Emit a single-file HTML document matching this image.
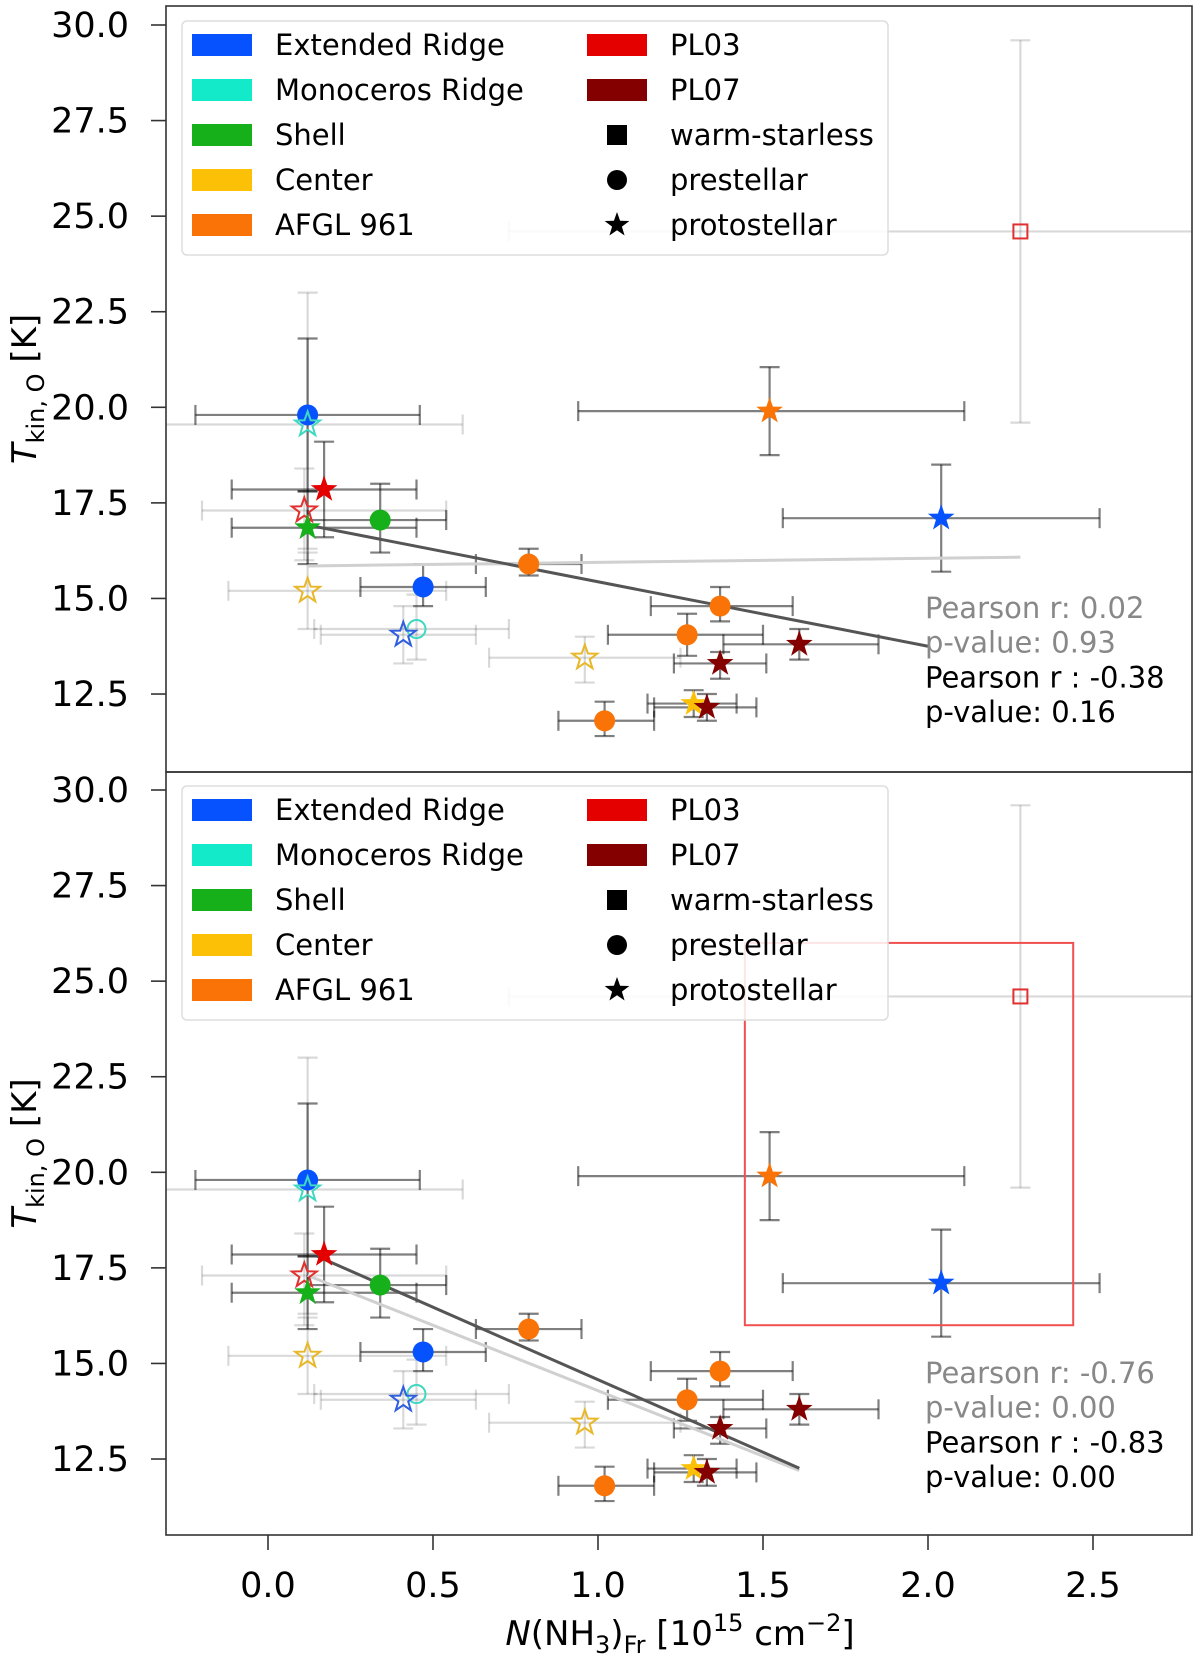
<!DOCTYPE html>
<html><head><meta charset="utf-8"><style>
html,body{margin:0;padding:0;background:#fff;}
svg{display:block;font-family:"DejaVu Sans","Liberation Sans",sans-serif;}
</style></head><body>
<svg id="chart" width="1200" height="1657" viewBox="0 0 1200 1657" xmlns="http://www.w3.org/2000/svg"></svg>
<script>
// ---- data ----
const ptX   = [0.12,0.12,0.17,0.11,0.34,0.12,0.12,0.47,0.45,0.41,0.79,0.96,1.02,1.27,1.37,1.29,1.33,1.37,1.61,1.52,2.04,2.28];
const ptY   = [19.8,19.55,17.85,17.3,17.05,16.85,15.2,15.3,14.2,14.05,15.9,13.45,11.8,14.05,14.8,12.25,12.15,13.3,13.8,19.9,17.1,24.6];
const ptXlo = [-0.22,-0.32,-0.11,-0.2,0.12,-0.11,-0.12,0.28,0.14,0.16,0.63,0.67,0.88,1.03,1.16,1.15,1.17,1.23,1.38,0.94,1.56,0.73];
const ptXhi = [0.46,0.59,0.45,0.54,0.54,0.45,0.54,0.66,0.73,0.63,0.95,1.25,1.17,1.5,1.59,1.42,1.48,1.51,1.85,2.11,2.52,3.2];
const ptYlo = [17.8,16.3,16.6,16.0,16.2,15.9,14.2,14.8,13.4,13.3,15.6,12.8,11.4,13.5,14.4,11.9,11.8,12.9,13.4,18.75,15.7,19.6];
const ptYhi = [21.8,23.0,19.1,18.4,18.0,17.8,16.2,15.9,15.1,14.8,16.3,14.0,12.3,14.6,15.3,12.6,12.5,13.6,14.2,21.05,18.5,29.6];
const ptGroup = ["ext","mon","pl03","pl03","shell","shell","center","ext","mon","ext","afgl","center","afgl","afgl","afgl","center","pl07","pl07","pl07","afgl","ext","pl03"];
const ptMarker = ["o","*","*","*","o","*","*","o","o","*","o","*","o","o","o","*","*","*","*","*","*","s"];
const ptFilled = [1,0,1,0,1,1,0,1,0,0,1,0,1,1,1,1,1,1,1,1,1,0];
const fitTop = {dark:[[0.12,16.92],[2.0,13.75]], light:[[0.12,15.85],[2.28,16.08]]};
const fitBot = {dark:[[0.15,17.8],[1.61,12.26]], light:[[0.12,17.3],[1.61,12.2]]};
const statsTop = ["Pearson r: 0.02","p-value: 0.93","Pearson r : -0.38","p-value: 0.16"];
const statsBot = ["Pearson r: -0.76","p-value: 0.00","Pearson r : -0.83","p-value: 0.00"];
const yTicks = [12.5,15.0,17.5,20.0,22.5,25.0,27.5,30.0];
const xTicks = [0.0,0.5,1.0,1.5,2.0,2.5];
const legendRegions = ["Extended Ridge","Monoceros Ridge","Shell","Center","AFGL 961"];
const legendRegionKeys = ["ext","mon","shell","center","afgl"];
const legendCol2 = ["PL03","PL07","warm-starless","prestellar","protostellar"];
const colors = {ext:"#0652ff",mon:"#13eac9",shell:"#15b01a",center:"#fcc006",afgl:"#f97306",pl03:"#e50000",pl07:"#840000"};
const openColors = {ext:"#2f5fe0",mon:"#3fd8c0",center:"#e8b82a",pl03:"#e03030"};

const NS="http://www.w3.org/2000/svg";
const svg=document.getElementById('chart');
function mk(tag,attrs,parent){const e=document.createElementNS(NS,tag);for(const k in attrs)e.setAttribute(k,attrs[k]);(parent||svg).appendChild(e);return e;}
const X=v=>268+v*330;
const L=166,R=1192;
function star(cx,cy,r){let p=[];for(let i=0;i<10;i++){const a=-Math.PI/2+i*Math.PI/5;const rr=i%2?r*0.4:r;p.push((cx+rr*Math.cos(a)).toFixed(1)+","+(cy+rr*Math.sin(a)).toFixed(1));}return p.join(" ");}

function panel(off,top,bottom,fit,stats,showRect,idx){
  const Y=v=>25+off+(30-v)*38.23;
  const g=mk('g',{});
  
  
  const cid='clip'+idx;
  const cp=mk('clipPath',{id:cid},g);mk('rect',{x:L,y:top,width:R-L,height:bottom-top},cp);
  const plot=mk('g',{'clip-path':'url(#'+cid+')'},g);
  for(let i=0;i<ptX.length;i++){
    const dark=ptFilled[i]===1;
    const col=dark?"rgba(0,0,0,0.5)":"rgba(0,0,0,0.15)";
    const eb=mk('g',{stroke:col,'stroke-width':2.2,fill:'none'},plot);
    
    
    const x=X(ptX[i]),y=Y(ptY[i]);
    mk('line',{x1:X(ptXlo[i]),y1:y,x2:X(ptXhi[i]),y2:y},eb);
    mk('line',{x1:x,y1:Y(ptYlo[i]),x2:x,y2:Y(ptYhi[i])},eb);
    [ptXlo[i],ptXhi[i]].forEach(v=>mk('line',{x1:X(v),y1:y-10,x2:X(v),y2:y+10},eb));
    [ptYlo[i],ptYhi[i]].forEach(v=>mk('line',{x1:x-10,y1:Y(v),x2:x+10,y2:Y(v)},eb));
  }
  const fl=mk('line',{x1:X(fit.light[0][0]),y1:Y(fit.light[0][1]),x2:X(fit.light[1][0]),y2:Y(fit.light[1][1]),stroke:'#d0d0d0','stroke-width':3},plot);
  
  
  const fd=mk('line',{x1:X(fit.dark[0][0]),y1:Y(fit.dark[0][1]),x2:X(fit.dark[1][0]),y2:Y(fit.dark[1][1]),stroke:'#555','stroke-width':3},plot);
  
  
  for(let i=0;i<ptX.length;i++){
    const x=X(ptX[i]),y=Y(ptY[i]),gk=ptGroup[i];
    const filled=ptFilled[i]===1;
    const c=filled?colors[gk]:(openColors[gk]||colors[gk]);
    const st=filled?{fill:c,stroke:'none'}:{fill:'none',stroke:c,'stroke-width':2};
    let m;
    if(ptMarker[i]==='o') m=mk('circle',Object.assign({cx:x,cy:y,r:filled?10.5:9},st),plot);
    else if(ptMarker[i]==='s') m=mk('rect',Object.assign({x:x-7,y:y-7,width:14,height:14},st),plot);
    else m=mk('polygon',Object.assign({points:star(x,y,filled?14:13)},st),plot);
    
    
  }
  if(showRect){
    const r=mk('rect',{x:X(1.445),y:Y(26.0),width:X(2.44)-X(1.445),height:Y(16.0)-Y(26.0),fill:'none',stroke:'#f05050','stroke-width':2},plot);
    
    
  }
  const fr=mk('rect',{x:L,y:top,width:R-L,height:bottom-top,fill:'none',stroke:'#333','stroke-width':1.6},g);
  
  
  yTicks.forEach(t=>{
    mk('line',{x1:L-15,y1:Y(t),x2:L,y2:Y(t),stroke:'#333','stroke-width':1.6},g);
    const tx=mk('text',{x:L-37,y:Y(t)+12,'text-anchor':'end','font-size':35,fill:'#000'},g);
    tx.textContent=t.toFixed(1);
    
    
  });
  const yl=mk('text',{transform:'translate(36,'+((top+bottom)/2)+') rotate(-90)','text-anchor':'middle','font-size':34,fill:'#000'},g);
  
  
  yl.innerHTML='<tspan font-style="italic">T</tspan><tspan font-size="24" dy="8">kin, O</tspan><tspan dy="-8"> [K]</tspan>';
  const lg=mk('g',{},g);
  
  
  mk('rect',{x:182,y:21+off,width:706,height:234,rx:5,fill:'rgba(255,255,255,0.85)',stroke:'#ddd','stroke-width':1.5},lg);
  legendRegions.forEach((n,k)=>{
    const yy=45+off+k*45;
    const e=mk('g',{},lg);
    
    
    mk('rect',{x:192,y:yy-11,width:60,height:22,fill:colors[legendRegionKeys[k]]},e);
    const t=mk('text',{x:275,y:yy+10,'font-size':29,fill:'#000'},e);t.textContent=n;
  });
  legendCol2.forEach((n,k)=>{
    const yy=45+off+k*45;
    const e=mk('g',{},lg);
    
    
    if(k===0) mk('rect',{x:587,y:yy-11,width:60,height:22,fill:colors.pl03},e);
    else if(k===1) mk('rect',{x:587,y:yy-11,width:60,height:22,fill:colors.pl07},e);
    else if(k===2) mk('rect',{x:607,y:yy-10,width:20,height:20,fill:'#000'},e);
    else if(k===3) mk('circle',{cx:617,cy:yy,r:10,fill:'#000'},e);
    else mk('polygon',{points:star(617,yy,13),fill:'#000'},e);
    const t=mk('text',{x:670,y:yy+10,'font-size':29,fill:'#000'},e);t.textContent=n;
  });
  stats.forEach((s,k)=>{
    const t=mk('text',{x:925,y:618+off+k*34.7,'font-size':29,fill:k<2?'#888':'#000'},g);
    t.textContent=s;
    
    
  });
}
panel(0,6,772,fitTop,statsTop,false,1);
panel(765,772,1535,fitBot,statsBot,true,2);
xTicks.forEach(t=>{
  mk('line',{x1:X(t),y1:1535,x2:X(t),y2:1550,stroke:'#333','stroke-width':1.6});
  const tx=mk('text',{x:X(t),y:1597,'text-anchor':'middle','font-size':35,fill:'#000'});
  tx.textContent=t.toFixed(1);
  
  
});
const xl=mk('text',{x:680,y:1645,'text-anchor':'middle','font-size':34,fill:'#000'});


xl.innerHTML='<tspan font-style="italic">N</tspan>(NH<tspan font-size="24" dy="8">3</tspan><tspan dy="-8">)</tspan><tspan font-size="24" dy="8">Fr</tspan><tspan dy="-8"> [10</tspan><tspan font-size="24" dy="-14">15</tspan><tspan dy="14"> cm</tspan><tspan font-size="24" dy="-14">−2</tspan><tspan dy="14">]</tspan>';
</script>
</body></html>
